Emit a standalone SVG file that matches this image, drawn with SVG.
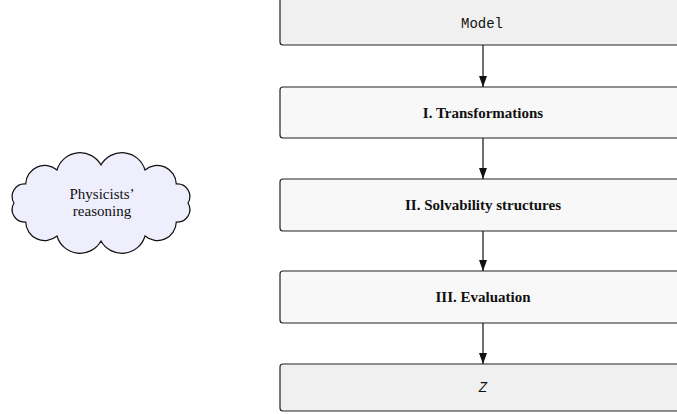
<svg xmlns="http://www.w3.org/2000/svg" width="677" height="414" viewBox="0 0 677 414">
<style>
.box{stroke:#222;stroke-width:1.2}
.grey{fill:#f0f0f0}
.light{fill:#f8f8f8}
.bold{font-family:"Liberation Serif",serif;font-weight:bold;font-size:15px;fill:#111;text-anchor:middle}
.mono{font-family:"Liberation Mono",monospace;font-size:14px;fill:#111;text-anchor:middle}
.serif{font-family:"Liberation Serif",serif;font-size:15px;fill:#111;text-anchor:middle}
.conn{stroke:#111;stroke-width:1.2;fill:none;marker-end:url(#arr)}
</style>
<defs>
<marker id="arr" viewBox="0 0 11 8" refX="11" refY="4" markerWidth="11" markerHeight="8" markerUnits="userSpaceOnUse" orient="auto">
<path d="M0,0 L11,4 L0,8 z" fill="#111"/>
</marker>
</defs>
<g id="cloud">
<path d="M188,203 A12.5,12.5 0 0 1 176.3,222 A19,19 0 0 1 145,236 A24,24 0 0 1 101,241 A24,24 0 0 1 57,236 A19,19 0 0 1 25.7,222 A12.5,12.5 0 0 1 14,203 A12.5,12.5 0 0 1 25.7,184 A19,19 0 0 1 57,170 A24,24 0 0 1 101,165 A24,24 0 0 1 145,170 A19,19 0 0 1 176.3,184 A12.5,12.5 0 0 1 188,203 Z" fill="#eeeefc" stroke="#111" stroke-width="1.2"/>
<text class="serif" x="102" y="199">Physicists’</text>
<text class="serif" x="102" y="216">reasoning</text>
</g>
<g id="model">
<rect class="box grey" x="280" y="-6" width="406" height="51" rx="3"/>
<text class="mono" x="482" y="28">Model</text>
</g>
<g id="transformations">
<rect class="box light" x="280" y="87" width="406" height="51" rx="3"/>
<text class="bold" x="483" y="118">I. Transformations</text>
</g>
<g id="solvability">
<rect class="box light" x="280" y="179" width="406" height="52" rx="3"/>
<text class="bold" x="483" y="210">II. Solvability structures</text>
</g>
<g id="evaluation">
<rect class="box light" x="280" y="271" width="406" height="52" rx="3"/>
<text class="bold" x="483" y="302">III. Evaluation</text>
</g>
<g id="z">
<rect class="box grey" x="280" y="364" width="406" height="47" rx="3"/>
<text class="mono" x="483" y="392" font-style="italic">Z</text>
</g>
<g id="connectors">
<line class="conn" x1="483" y1="45" x2="483" y2="87"/>
<line class="conn" x1="483" y1="138" x2="483" y2="179"/>
<line class="conn" x1="483" y1="231" x2="483" y2="271"/>
<line class="conn" x1="483" y1="323" x2="483" y2="364"/>
</g>
</svg>
